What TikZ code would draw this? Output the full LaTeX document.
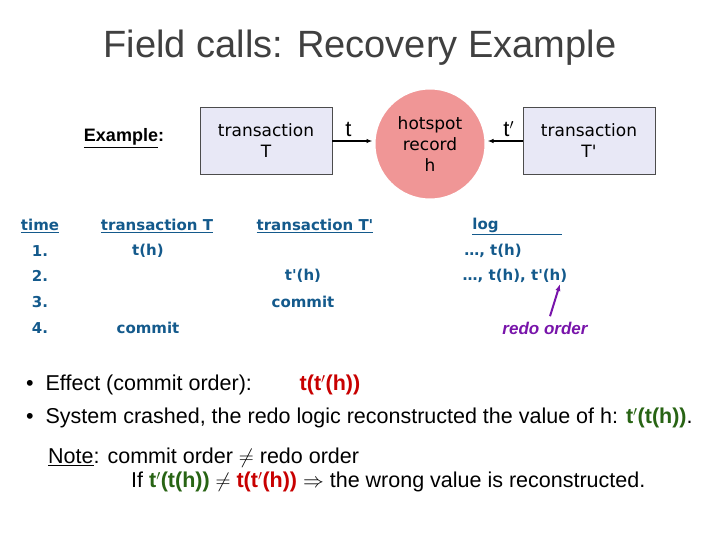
\documentclass[tikz,border=0pt]{standalone}
\usepackage{fontspec}
\setmainfont{Liberation Sans}
\newfontfamily\comic{DejaVu Sans}
\usetikzlibrary{arrows.meta}
\definecolor{tb}{RGB}{20,90,140}
\definecolor{box}{RGB}{232,232,246}
\definecolor{hot}{RGB}{240,150,150}
\definecolor{vio}{RGB}{120,20,170}
\definecolor{grn}{RGB}{40,100,20}
\definecolor{red}{RGB}{200,0,0}
\tikzset{
 tx/.style={draw=black!70,fill=box,minimum width=132pt,minimum height=67pt,inner sep=0pt,align=center,font=\comic\fontsize{17}{21}\selectfont},
 bl/.style={text=tb,font=\comic\bfseries\fontsize{15}{17}\selectfont,inner sep=1pt},
 bt/.style={font=\fontsize{21.5}{25}\selectfont,inner sep=1pt,anchor=west},
 arr/.style={-{Latex[length=6pt]},line width=1.5pt}
}
\begin{document}
\begin{tikzpicture}[x=1pt,y=-1pt]
\useasboundingbox (0,0) rectangle (720,540);
\node[font=\fontsize{38}{44}\selectfont,text=black!75] (title) at (360,48) {Field calls: Recovery Example};
\node[font=\fontsize{18}{21}\selectfont\bfseries] (ex) at (124,138) {\underline{Example}:};
\node[tx] (T) at (266,141) {transaction\\T};
\node[tx] (T2) at (589,141) {transaction\\T'};
\node[circle,draw=white,line width=3pt,fill=hot,minimum size=112pt,inner sep=0pt,align=center,font=\comic\fontsize{17}{21}\selectfont] (h) at (430,144) {hotspot\\record\\h};
\draw[arr] (T.east) -- node[above,font=\fontsize{22}{26}\selectfont,pos=0.4] {t} (T.east -| h.west);
\draw[arr] (T2.west) -- node[above,font=\fontsize{22}{26}\selectfont,pos=0.4] {t$'$} (T2.west -| h.east);
\node[bl] (c0) at (40,226) {\underline{time}};
\node[bl] (c1) at (40,251) {1.};
\node[bl] (c2) at (40,276) {2.};
\node[bl] (c3) at (40,302) {3.};
\node[bl] (c4) at (40,328) {4.};
\node[bl] (a0) at (157,226) {\underline{transaction T}};
\node[bl] (a1) at (148,251) {t(h)};
\node[bl] (a4) at (148,328) {commit};
\node[bl] (b0) at (315,226) {\underline{transaction T'}};
\node[bl] (b2) at (303,276) {t'(h)};
\node[bl] (b3) at (303,302) {commit};
\node[bl] (l0) at (517,226) {\underline{log\hspace{4.2em}}};
\node[bl] (l1) at (493,251) {\dots, t(h)};
\node[bl] (l2) at (515,276) {\dots, t(h), t'(h)};
\node[text=vio,font=\bfseries\itshape\fontsize{17}{20}\selectfont] (redo) at (545,328) {redo order};
\coordinate (tip) at (560,284);
\draw[vio,-{Latex[length=7pt]},line width=2pt] (redo.north) ++(5,-2) -- (tip);
\node[bt] (e1) at (25,385) {\textbullet\ \ Effect (commit order):};
\node[font=\fontsize{21.5}{25}\selectfont\bfseries,text=red] (e1v) at (330,385) {t(t$'$(h))};
\node[bt] (e2) at (25,418) {\textbullet\ \ System crashed, the redo logic reconstructed the value of h: \textbf{\color{grn}t$'$(t(h))}.};
\node[bt] (n1) at (47,458) {\underline{Note}: commit order $\neq$ redo order};
\node[bt] (n2) at (130,482) {If \textbf{\color{grn}t$'$(t(h))} $\neq$ \textbf{\color{red}t(t$'$(h))} $\Rightarrow$ the wrong value is reconstructed.};
\end{tikzpicture}
\end{document}
